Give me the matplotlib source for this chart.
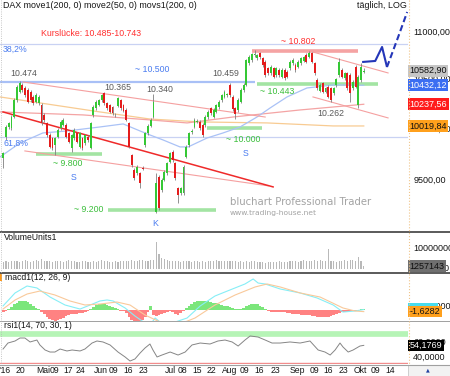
import numpy as np
import matplotlib
matplotlib.use("Agg")
import matplotlib.pyplot as plt
from matplotlib.transforms import blended_transform_factory as blend
from matplotlib.lines import Line2D
from matplotlib.patches import Rectangle
from matplotlib.ticker import NullLocator

plt.rcParams['font.family'] = ['Liberation Sans', 'DejaVu Sans']

# ---------------- data ----------------
open_ = np.array([9704, 9914, 10006, 9996, 10113, 10281, 10366, 10435, 10400, 10383,
                  10366, 10315, 10264, 10247, 10230, 10130, 10046, 9930, 9898, 9833,
                  9914, 9996, 10030, 10030, 9947, 9800, 9898, 9947, 9817, 9898,
                  9849, 9914, 9800, 10130, 10196, 10230, 10281, 10349, 10247, 10230,
                  10206, 10130, 10220, 10281, 10230, 10180, 10046, 9736, 9593, 9561,
                  9561, 9610, 9833, 9947, 10020, 10113, 9203, 9527, 9404, 9498,
                  9561, 9672, 9768, 9656, 9420, 9374, 9374, 9720, 9833, 9960,
                  10013, 10063, 10063, 10030, 10030, 10106, 10196, 10113, 10163, 10206,
                  10281, 10315, 10332, 10435, 10315, 10196, 10180, 10264, 10383, 10435,
                  10661, 10696, 10750, 10714, 10767, 10714, 10678, 10608, 10556, 10608,
                  10538, 10591, 10521, 10591, 10573, 10608, 10660, 10644, 10626, 10661,
                  10689, 10750, 10732, 10767, 10661, 10487, 10376, 10452, 10366, 10418,
                  10400, 10349, 10435, 10538, 10591, 10504, 10556, 10538, 10400, 10626,
                  10230, 10487, 10573])
close = np.array([9752, 10013, 10046, 10113, 10281, 10418, 10452, 10383, 10332, 10264,
                  10281, 10247, 10332, 10315, 10046, 10080, 9930, 9817, 9800, 9898,
                  9980, 10063, 10080, 9914, 9865, 9930, 9980, 9865, 9947, 9800,
                  9930, 9882, 10046, 10213, 10264, 10281, 10332, 10247, 10196, 10163,
                  10146, 10125, 10298, 10196, 10173, 10080, 9817, 9640, 9514, 9624,
                  9467, 9605, 9947, 10020, 10080, 10264, 9470, 9236, 9498, 9577,
                  9656, 9752, 9688, 9514, 9358, 9420, 9624, 9817, 9947, 9965,
                  10080, 10068, 9997, 9930, 10113, 10163, 10146, 10180, 10230, 10264,
                  10332, 10366, 10337, 10332, 10187, 10140, 10281, 10383, 10435, 10696,
                  10732, 10757, 10752, 10750, 10725, 10644, 10538, 10556, 10626, 10521,
                  10608, 10538, 10591, 10504, 10521, 10678, 10700, 10591, 10678, 10714,
                  10725, 10678, 10774, 10678, 10556, 10400, 10435, 10366, 10400, 10315,
                  10281, 10400, 10494, 10678, 10521, 10556, 10400, 10349, 10470, 10418,
                  10521, 10626, 10582.90])
high = np.array([9760, 10030, 10060, 10130, 10300, 10435, 10474, 10460, 10420, 10400,
                 10380, 10330, 10350, 10330, 10250, 10150, 10060, 9950, 9910, 9915,
                 9995, 10080, 10095, 10045, 9960, 9945, 9995, 9960, 9960, 9915,
                 9945, 9930, 10060, 10230, 10280, 10295, 10345, 10365, 10260, 10245,
                 10220, 10150, 10315, 10295, 10245, 10195, 10060, 9750, 9610, 9640,
                 9575, 9630, 9960, 10035, 10095, 10340, 9560, 9545, 9515, 9595,
                 9672, 9768, 9785, 9672, 9436, 9436, 9640, 9833, 9960, 9985,
                 10095, 10085, 10080, 10045, 10130, 10180, 10210, 10196, 10245, 10280,
                 10345, 10383, 10355, 10459, 10330, 10213, 10298, 10400, 10452, 10710,
                 10750, 10770, 10802, 10765, 10785, 10730, 10695, 10625, 10640, 10625,
                 10625, 10608, 10608, 10608, 10590, 10695, 10715, 10661, 10695, 10730,
                 10740, 10767, 10792, 10785, 10678, 10504, 10452, 10470, 10418, 10435,
                 10418, 10418, 10510, 10714, 10608, 10573, 10573, 10556, 10487, 10644,
                 10538, 10661, 10608])
low = np.array([9608, 9880, 9990, 9980, 10100, 10260, 10350, 10360, 10310, 10250,
                10260, 10230, 10250, 10230, 10030, 10060, 9910, 9800, 9780, 9736,
                9900, 9980, 10015, 9900, 9850, 9768, 9880, 9850, 9800, 9785,
                9835, 9865, 9790, 10110, 10180, 10215, 10265, 10230, 10180, 10145,
                10130, 10110, 10205, 10180, 10160, 10065, 9800, 9620, 9500, 9545,
                9420, 9590, 9815, 9930, 10005, 10100, 9195, 9220, 9390, 9485,
                9545, 9656, 9672, 9500, 9282, 9358, 9358, 9704, 9817, 9945,
                9997, 10045, 9980, 9915, 10013, 10090, 10130, 10100, 10146, 10190,
                10265, 10300, 10315, 10315, 10170, 10087, 10163, 10247, 10366, 10420,
                10645, 10680, 10730, 10700, 10710, 10625, 10520, 10540, 10540, 10505,
                10521, 10521, 10505, 10487, 10504, 10591, 10645, 10573, 10608, 10644,
                10675, 10661, 10714, 10661, 10538, 10383, 10360, 10349, 10349, 10298,
                10264, 10332, 10418, 10521, 10504, 10487, 10383, 10264, 10383, 10400,
                10196, 10470, 10556])
volume_m = np.array([3.4, 3.6, 3.5, 3.9, 4.0, 3.7, 3.5, 3.8, 4.2, 3.6, 3.4, 3.9, 4.1, 3.7,
                     4.9,
                     3.6, 3.8, 4.0, 3.5, 3.7, 3.9, 3.6, 3.4, 3.8, 4.1, 4.0, 3.7, 3.5, 3.3, 3.6, 3.9,
                     3.2, 3.5, 3.7, 3.4, 4.0, 4.3, 3.8, 3.6, 3.3, 3.5, 3.7, 3.4, 3.6, 3.9,
                     4.0, 3.8, 4.2, 3.7, 3.9, 4.1, 4.3, 3.6, 3.8, 4.4, 4.5,
                     12.7, 7.3, 5.0, 4.6,
                     4.2, 3.8, 3.6, 4.0, 3.7, 3.5, 3.9, 3.8, 3.6, 3.4, 3.7, 3.6, 3.5, 3.8, 3.4, 3.6,
                     3.7, 4.0, 4.2, 3.8, 3.9, 4.0, 3.7, 3.6, 3.9, 3.8, 3.5, 3.6, 3.4, 3.7, 3.5,
                     3.6, 3.8, 3.4, 3.3, 3.2, 3.0, 3.3, 3.5, 3.2, 3.4, 3.6, 3.3, 3.1, 3.4, 3.6,
                     3.8, 3.9, 3.5, 3.7, 4.1, 3.6, 3.8, 4.0, 4.3, 3.9, 4.4, 3.8, 4.0,
                     9.3,
                     4.0, 3.7, 3.5, 3.8, 4.0, 4.2, 3.9, 4.1, 4.5, 4.0, 5.5, 3.6, 1.257143])
macd_hist = np.array([-15, -10, 10, 30, 50, 65, 78, 85, 82, 72, 55, 40, 22, 8,
                      -15, -40, -65, -85, -95, -100, -95, -85, -70, -55, -45, -40, -35, -35,
                      -30, -25, -18, -8, 10, 30, 45, 55, 58, 55, 48, 38, 25, 15, 5, -5,
                      -10, -30, -60, -90, -100, -100, -100, -95, -60, -20, 35, -50, -55, -50,
                      -40, -25, -15, -10, -20, -35, -45, -30, -10, 15, 35, 55, 70, 80, 85, 85,
                      82, 78, 72, 68, 62, 55, 48, 40, 32, 25, 18, 12, 8, 10, 20, 35, 48, 55,
                      55, 50, 40, 25, 10, -5, -15, -20, -22, -20, -18, -20, -25, -30, -35, -38,
                      -40, -42, -45, -48, -50, -55, -58, -62, -65, -68, -65, -60, -55, -50,
                      -40, -30, -20, -15, -15, -12, -10, -5, 3, 8, 10])
macd_x = [-0.1, 4.3, 8.7, 12.3, 17.1, 22.6, 28.1, 31.8, 35.4, 38.0, 40.2, 44.6, 48.2,
          51.9, 53.7, 55.6, 57.4, 62.9, 67.3, 72.1, 77.5, 83.0, 88.5, 91.5, 93.3, 95.9,
          101.4, 108.7, 114.9, 120.8, 124.4, 128.8, 132]
macd_line = [85, 285, 392, 362, 223, 100, 38, 100, 162, 177, 162, 54, -69, -177, -208,
             -100, -162, -162, -100, 85, 238, 331, 423, 500, 438, 423, 346, 285, 208, 100,
             -8, 8, 30]
signal_x = [-0.1, 4.3, 8.7, 13.4, 18.9, 24.4, 29.9, 35.4, 41.6, 46.4, 51.9, 57.4, 64.7,
            70.2, 77.5, 84.9, 92.2, 96.6, 101.4, 108.7, 116.0, 124.4, 128.8, 132]
signal_line = [38, 177, 269, 315, 254, 162, 100, 115, 146, 100, -54, -162, -192, -100,
               100, 254, 377, 423, 377, 285, 223, 54, 8, -1.6282]
rsi_x = [-0.1, 1.7, 4.3, 6.1, 7.9, 9.8, 12.3, 13.4, 15.3, 17.1, 18.9, 20.8, 23.3, 25.2,
         28.1, 29.9, 32.5, 34.3, 36.5, 39.1, 42.0, 44.6, 46.4, 48.2, 50.1, 51.9, 53.7,
         54.8, 56.3, 58.1, 61.1, 64.0, 66.6, 69.1, 72.1, 75.7, 78.6, 81.2, 83.8, 86.0,
         88.5, 90.4, 93.3, 95.9, 98.4, 101.4, 105.0, 108.7, 112.3, 115.3, 117.8, 119.7,
         121.5, 123.3, 124.4, 126.3, 128.1, 130.6, 132]
rsi_vals = [49.3, 57.3, 60, 64, 64, 58.7, 61.3, 54.7, 48, 45.3, 45.3, 49.3, 46.7, 48,
            46.7, 49.3, 57.3, 60, 58.7, 54.7, 45.3, 38.7, 33.3, 36, 44, 50.7, 56, 48,
            38.7, 41.3, 45.3, 41.3, 45.3, 54.7, 57.3, 56, 60, 61.3, 58.7, 53.3, 61.3,
            66.7, 65.3, 61.3, 57.3, 57.3, 58.7, 57.3, 60, 48, 45.3, 41.3, 48, 57.3, 52,
            45.3, 48, 53.3, 54.1769]

# moving averages (knots)
ma200_x = [-1.2, 13.4, 35.4, 53.7, 72.1, 96.6, 120.8, 132]
ma200 = [10312, 10251, 10160, 10089, 10060, 10050, 10020, 10019.84]
movs_x = [-1.2, 29.2, 53.7, 67.3, 84.1, 108.7, 132]
movs200 = [10160, 10130, 10080, 10050, 10109, 10180, 10237.56]
ma50_x = [-1.2, 6.1, 14.5, 23.3, 35.4, 43.9, 50.1, 53.7, 58.5, 64.7, 67.7, 74.6, 80.5,
          86.7, 92.9, 97.7, 103.9, 111.2, 120.8, 132]
ma50 = [9717, 9852, 9951, 9970, 10010, 10040, 9970, 9931, 9882, 9814, 9814, 9901, 9951,
        10010, 10109, 10200, 10312, 10404, 10435, 10432.12]

# levels / trend lines (bar index, price)
fib382, fib618 = 10867, 9911
blue_level = (10466, -1.2, 92.0)
res_band = (10792, 91.1, 129.9)
sup_bands = [(10450, 93.0, 137.3), (10000, 74.6, 94.8), (9750, 12.0, 36.2), (9221, 38.4, 77.9)]
trend_main = ([-0.1, 98.8], [10160, 9433])
trend_light = [([7.9, 97.0], [9775, 9443]),
               ([7.2, 95.9], [10466, 10109]),
               ([113.4, 140.9], [10781, 10560]),
               ([113.4, 140.9], [10312, 10100])]
fc_x = [131.4, 136.2, 138.7, 140.5, 144.6, 147.9]
fc_y = [10675, 10686, 10835, 10622, 10943, 11217]

tick_pos = [0.6, 6.1, 14.5, 18.9, 23.7, 28.1, 35.8, 40.5, 45.7, 51.2, 61.1, 65.5, 70.9,
            76.4, 83.0, 88.2, 93.7, 99.5, 107.6, 113.8, 118.9, 124.4, 130.6, 136.2, 141.6]
tick_lab = ["'16", "20", "Mai", "09", "17", "24", "Jun", "09", "16", "23", "Jul", "08",
            "15", "22", "Aug", "09", "16", "23", "Sep", "09", "16", "23", "Okt", "09", "14"]

# ---------------- layout ----------------
W, H = 450, 376
XLIM = (-1.21, 148.2)
fig = plt.figure(figsize=(4.5, 3.76), dpi=100, facecolor='white')


def rect(x0, y0, x1, y1):
    return [x0 / W, 1 - y1 / H, (x1 - x0) / W, (y1 - y0) / H]


def P(x, y):
    return x / W, 1 - y / H


ax = fig.add_axes(rect(0, 0, 408, 231))
axv = fig.add_axes(rect(0, 232, 408, 272))
axm = fig.add_axes(rect(0, 273, 408, 321))
axr = fig.add_axes(rect(0, 321, 408, 364))
axl = axm.twinx()
for a in (ax, axv, axm, axr, axl):
    a.set_xlim(XLIM)
    for s in a.spines.values():
        s.set_visible(False)
    a.set_xticks([])
    a.patch.set_alpha(0)
    a.tick_params(axis='y', length=0, pad=3.8, labelsize=6.5, labelcolor='#151515')
for a in (ax, axv, axr):
    a.yaxis.tick_right()
axm.set_yticks([])

GREEN = '#35c835'
RED = '#e41c1c'

# ---------------- main price panel ----------------
ax.set_yscale('log')
ax.set_ylim(9030, 11351)
ax.yaxis.set_minor_locator(NullLocator())
ax.set_yticks([9500, 10000, 10500, 11000])
ax.set_yticklabels(['9500,00', '10000,00', '10500,00', '11000,00'])

ax.axhline(fib382, color='#c9d2f3', lw=0.9, zorder=1)
ax.axhline(fib618, color='#c9d2f3', lw=0.9, zorder=1)
ax.hlines(blue_level[0], blue_level[1], blue_level[2], color='#a9c0f6', lw=1.6, zorder=1)
ax.hlines(res_band[0], res_band[1], res_band[2], color='#f5a3a3', lw=2.6, zorder=1)
for v, a0, a1 in sup_bands:
    ax.hlines(v, a0, a1, color='#a3e4a3', lw=2.6, zorder=1)
ax.plot(ma200_x, ma200, color='#f8cb92', lw=0.9, zorder=2)
ax.plot(movs_x, movs200, color='#f4a4a4', lw=0.9, zorder=2)
ax.plot(ma50_x, ma50, color='#aac2f6', lw=0.9, zorder=2)
for lx, ly in trend_light:
    ax.plot(lx, ly, color='#f5a0a0', lw=0.8, zorder=2)
ax.plot(trend_main[0], trend_main[1], color='#ef2a2a', lw=1.1, zorder=2)

xi = np.arange(len(close))
up = close >= open_
lo = np.minimum(open_, close)
hgt = np.maximum(np.abs(close - open_), 7)
ax.vlines(xi, low, high, color='#7f7f7f', lw=0.6, zorder=3)
ax.bar(xi, hgt, bottom=lo, width=0.7, color=np.where(up, GREEN, RED), lw=0, zorder=4)

ax.plot(fc_x[:4], fc_y[:4], color='#2436b8', lw=1.5, zorder=6, solid_capstyle='butt')
ax.plot(fc_x[3:], fc_y[3:], color='#2436b8', lw=1.5, zorder=6, dashes=(3, 1.6))


def value_box(a, v, s, fc, tc):
    a.text(1.004, v, s, transform=blend(a.transAxes, a.transData), ha='left', va='center',
           fontsize=6.5, color=tc, zorder=20, clip_on=False,
           bbox=dict(boxstyle='square,pad=0.15', fc=fc, ec='none'))


value_box(ax, close[-1], '10582,90', '#c6c6c6', '#111111')
value_box(ax, ma50[-1], '10432,12', '#3b6ef2', 'white')
value_box(ax, movs200[-1], '10237,56', '#ff1c1c', 'white')
value_box(ax, ma200[-1], '10019,84', '#ffa01c', '#111111')

# annotations
GRAY_T, RED_T, GREEN_T, BLUE_T = '#5a5a5a', '#ff3030', '#3cbf3c', '#4a7cf0'
notes = [
    ('DAX move1(200, 0) move2(50, 0) movs1(200, 0)', 3, 6, '#151515', 6.4),
    ('täglich, LOG', 357, 6, '#151515', 6.4),
    ('Kurslücke: 10.485-10.743', 41, 34, RED_T, 6.3),
    ('38,2%', 3, 49, BLUE_T, 6.3),
    ('10.474', 10, 73, GRAY_T, 6.3),
    ('~ 10.500', 135, 70, BLUE_T, 6.3),
    ('10.365', 104, 88, GRAY_T, 6.3),
    ('10.340', 146, 90, GRAY_T, 6.3),
    ('10.459', 212, 73, GRAY_T, 6.3),
    ('~ 10.802', 281, 42, RED_T, 6.3),
    ('~ 10.443', 260, 92, GREEN_T, 6.3),
    ('10.262', 317, 114, GRAY_T, 6.3),
    ('61,8%', 3, 143, BLUE_T, 6.3),
    ('~ 9.800', 53, 164, GREEN_T, 6.3),
    ('S', 71, 177, BLUE_T, 6.3),
    ('~ 10.000', 226, 140, GREEN_T, 6.3),
    ('S', 243, 153, BLUE_T, 6.3),
    ('~ 9.200', 74, 210, GREEN_T, 6.3),
    ('K', 152, 224, BLUE_T, 6.3),
]
for s, x, y, c, fs in notes:
    fig.text(*P(x, y), s, color=c, fontsize=fs, ha='left', va='center', zorder=30)
fig.text(*P(230, 202), 'bluchart Professional Trader', color='#a3a3a3', fontsize=7.3,
         family='DejaVu Sans', ha='left', va='center')
fig.text(*P(230, 213), 'www.trading-house.net', color='#a3a3a3', fontsize=5.4,
         family='DejaVu Sans', ha='left', va='center')

# ---------------- volume ----------------
axv.bar(xi, volume_m, width=0.4, color='#b9b9b9', lw=0)
axv.set_ylim(-1.43, 17.6)
axv.set_yticks([10])
axv.set_yticklabels(['10000000'])
value_box(axv, volume_m[-1], '1257143', '#6f6f6f', '#101010')
axv.text(1.088, 0.2, '0', transform=blend(axv.transAxes, axv.transData), ha='left',
         va='center', fontsize=6.5, color='#151515', clip_on=False)
fig.text(*P(4, 238), 'VolumeUnits1', fontsize=6.2, color='#151515', ha='left', va='center')

# ---------------- MACD ----------------
axm.bar(xi, macd_hist, width=1.0, color=np.where(macd_hist >= 0, '#7be67b', '#ff8282'), lw=0)
axm.set_ylim(-100, 336)
axl.plot(macd_x, macd_line, color='#86eef6', lw=0.8)
axl.plot(signal_x, signal_line, color='#f9c99a', lw=0.8)
axl.set_ylim(-146, 592)
axl.set_yticks([0, 100])
axl.set_yticklabels(['0,0000', '100,0000'])
axl.tick_params(axis='y', length=0, pad=3.8, labelsize=6.5, labelcolor='#151515')
value_box(axl, 38, '8,1547', '#45dcef', '#151515')
value_box(axl, signal_line[-1], '-1,6282', '#ffa01c', '#151515')
fig.text(*P(5, 278), 'macd1(12, 26, 9)', fontsize=6.2, color='#151515', ha='left', va='center')
fig.add_artist(Rectangle(P(0, 281), 2 / W, 8 / H, transform=fig.transFigure,
                         fc='#ff9a1a', ec='none'))

# ---------------- RSI ----------------
axr.axhline(70, color='#b6f4b6', lw=4.1, zorder=1)
axr.axhline(30, color='#f28c8c', lw=1.0, zorder=1)
axr.plot(rsi_x, rsi_vals, color='#858585', lw=0.7, zorder=2)
axr.set_ylim(29.33, 86.67)
axr.set_yticks([40, 60])
axr.set_yticklabels(['40,0000', '60,0000'])
value_box(axr, rsi_vals[-1], '54,1769', '#000000', 'white')
fig.text(*P(4, 325), 'rsi1(14, 70, 30, 1)', fontsize=6.2, color='#151515', ha='left', va='center')
axr.set_xticks(tick_pos)
axr.set_xticklabels(tick_lab)
axr.tick_params(axis='x', length=0, pad=1.2, labelsize=6.2, labelcolor='#151515')

# ---------------- frame decorations ----------------
for y, c, lw in [(231.5, '#4d4d4d', 1.3), (272.5, '#4d4d4d', 1.3), (321, '#a0a0a0', 0.7),
                 (364.5, '#a0a0a0', 0.8)]:
    fig.add_artist(Line2D([0, 1], [1 - y / H] * 2, transform=fig.transFigure, color=c, lw=lw))
fig.add_artist(Line2D([408.5 / W] * 2, [1, 1 - 364 / H], transform=fig.transFigure,
                      color='#f0c58a', lw=0.8, ls=':'))
fig.add_artist(Line2D([1 / W] * 2, [1, 1 - 364 / H], transform=fig.transFigure,
                      color='#b5b5b5', lw=0.6, ls=':'))
fig.add_artist(Rectangle(P(408, 376), 42 / W, 11 / H, transform=fig.transFigure,
                         fc='#f2f2f2', ec='#c8c8c8', lw=0.6))
fig.text(*P(428, 370), '▲', fontsize=3.5, color='#2040a0', family='DejaVu Sans',
         ha='center', va='center')

fig.savefig('out.png', dpi=100, facecolor='white')
